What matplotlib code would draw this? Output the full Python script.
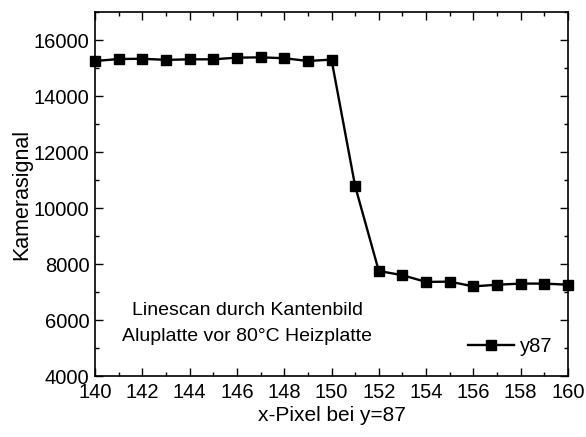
import matplotlib.pyplot as plt
from matplotlib.ticker import MultipleLocator

plt.rcParams['font.family'] = ['Liberation Sans', 'DejaVu Sans']

# Linescan quer über die Kante
pixel = [140, 141, 142, 143, 144, 145, 146, 147, 148, 149, 150,
         151, 152, 153, 154, 155, 156, 157, 158, 159, 160]
signal = [15250, 15320, 15330, 15290, 15310, 15310, 15370, 15380, 15350, 15250, 15300,
          10780, 7750, 7600, 7360, 7370, 7200, 7260, 7300, 7300, 7260]

fig = plt.figure(figsize=(5.86, 4.37), dpi=100)
ax = fig.add_axes([95 / 586, 1 - 376 / 437, (568 - 95) / 586, (376 - 12) / 437])

ax.plot(pixel, signal, color='black', lw=1.7, marker='s', ms=7,
        mfc='black', mec='black', label='y87', clip_on=False, zorder=3)

ax.set_xlim(140, 160)
ax.set_ylim(4000, 17000)
ax.xaxis.set_major_locator(MultipleLocator(2))
ax.xaxis.set_minor_locator(MultipleLocator(1))
ax.yaxis.set_major_locator(MultipleLocator(2000))
ax.yaxis.set_minor_locator(MultipleLocator(1000))
ax.tick_params(which='both', direction='in', top=True, right=True, labelsize=14.5, width=1)
ax.tick_params(which='major', length=6)
ax.tick_params(axis='x', which='major', pad=5)
ax.tick_params(axis='y', which='major', pad=4)
ax.tick_params(which='minor', length=3)
for s in ax.spines.values():
    s.set_linewidth(1.2)

ax.set_xlabel('x-Pixel bei y=87', fontsize=15, labelpad=3)
ax.set_ylabel('Kamerasignal', fontsize=15.5, labelpad=1)

ax.text(0.322, 0.145, 'Linescan durch Kantenbild\nAluplatte vor 80°C Heizplatte',
        transform=ax.transAxes, ha='center', va='center', fontsize=14, linespacing=1.7)

ax.legend(loc='lower right', frameon=False, fontsize=14.5, handlelength=2.3,
          handletextpad=0.3, borderaxespad=0.6, bbox_to_anchor=(1.01, 0.0))

fig.savefig('out.png', dpi=100)
